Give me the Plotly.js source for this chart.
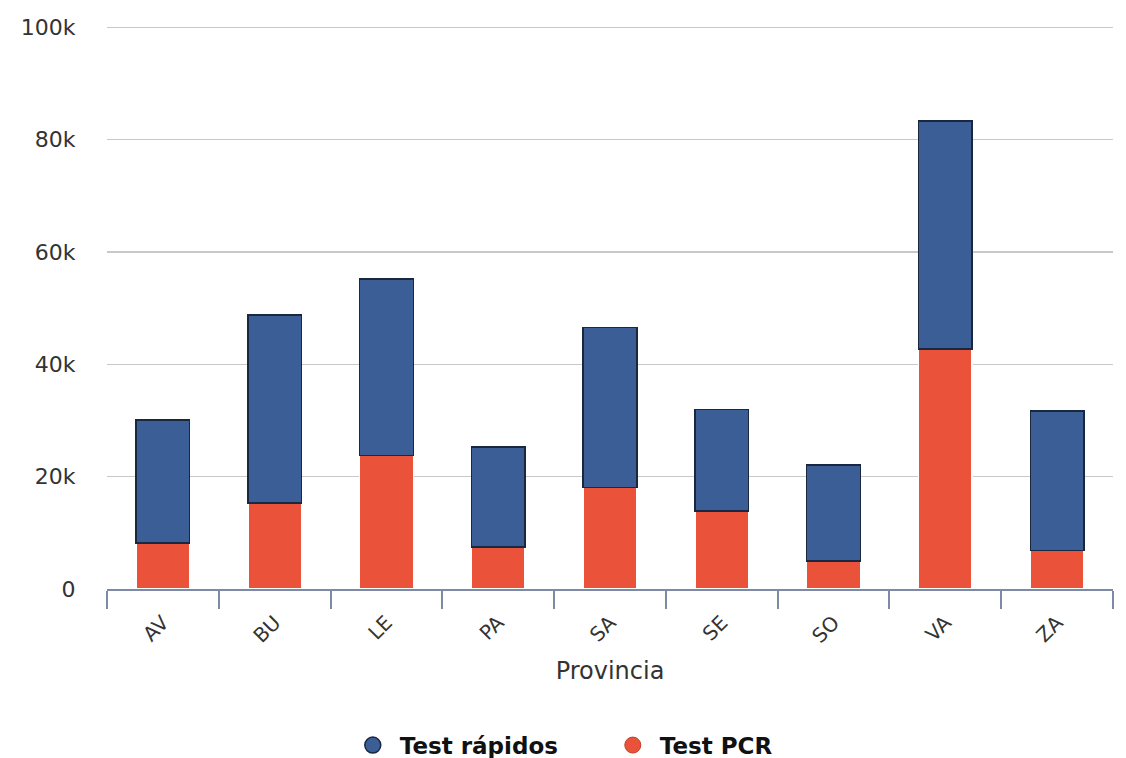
<!DOCTYPE html>
<html>
<head>
<meta charset="utf-8">
<script src="https://cdn.plot.ly/plotly-3.0.1.min.js"></script>
<style>html,body{margin:0;padding:0;background:#fff;}#chart{width:1126px;height:758px;}</style>
</head>
<body>
<div id="chart"></div>
<script>
const provincias = ["AV","BU","LE","PA","SA","SE","SO","VA","ZA"];
const totales = [30100, 48800, 55200, 25300, 46600, 32000, 22100, 83300, 31700];
const testPCR = [8200, 15300, 23800, 7500, 18100, 13900, 5000, 42700, 6900];
const testRapidos = totales.map((t, i) => t - testPCR[i]);

const blue = "#3b5e96";
const red = "#ea533a";

const traces = [
  {type:"bar", x:provincias, y:testPCR, name:"Test PCR", showlegend:false,
   marker:{color:red, line:{color:"#ffffff", width:1.5}}},
  {type:"bar", x:provincias, y:testRapidos, name:"Test rápidos", showlegend:false,
   marker:{color:blue, line:{color:"#1a2740", width:1.5}}},
  {type:"scatter", mode:"markers", x:[null], y:[null], name:"Test rápidos",
   marker:{symbol:"circle", size:24, color:blue, line:{color:"#1a2740", width:1.5}}},
  {type:"scatter", mode:"markers", x:[null], y:[null], name:"Test PCR",
   marker:{symbol:"circle", size:24, color:red, line:{color:"#c0402a", width:1}}}
];

const layout = {
  width:1126, height:758,
  margin:{l:107, r:13, t:24, b:169},
  paper_bgcolor:"#fff", plot_bgcolor:"#fff",
  barmode:"stack", bargap:0.52,
  font:{family:"DejaVu Sans, sans-serif", color:"#333"},
  xaxis:{
    type:"category", automargin:false,
    showgrid:false, showline:true, linecolor:"#7d8aa6", linewidth:2,
    ticks:"outside", tickson:"boundaries", ticklen:18, tickcolor:"#7d8aa6", tickwidth:2,
    tickangle:-45, tickfont:{size:20, color:"#333"}, ticklabelstandoff:12,
    title:{text:"Provincia", font:{size:24, color:"#333"}, standoff:15},
    zeroline:false
  },
  yaxis:{
    automargin:false,
    range:[0,100600], tickvals:[0,20000,40000,60000,80000,100000],
    exponentformat:"SI",
    showgrid:true, gridcolor:"#c8c8c8", gridwidth:1.5,
    zeroline:false, showline:false,
    ticks:"outside", ticklen:26, tickcolor:"rgba(0,0,0,0)",
    tickfont:{size:22, color:"#333"}
  },
  legend:{
    orientation:"h", x:0.538, xanchor:"center", xref:"container",
    y:0.017, yanchor:"middle", yref:"container",
    font:{size:23, color:"#111", family:"DejaVu Sans, sans-serif", weight:"bold"},
    traceorder:"normal", itemwidth:44,
    entrywidth:201, entrywidthmode:"pixels"
  },
  showlegend:true
};

Plotly.newPlot("chart", traces, layout, {displayModeBar:false, staticPlot:true});
</script>
</body>
</html>
